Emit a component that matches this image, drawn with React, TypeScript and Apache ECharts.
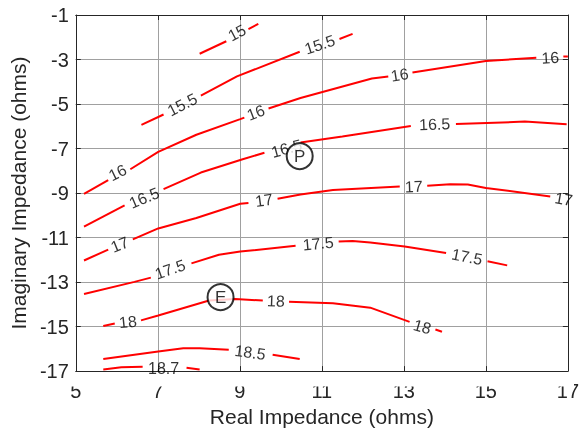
import React, { useEffect, useRef } from "react";
import * as echarts from "echarts";

// Contour segments per level (gaps are where inline labels sit)
const c150 = [
  [[8.02, -2.74], [8.67, -2.18]],
  [[9.21, -1.63], [9.45, -1.4]],
];
const c155 = [
  [[6.6, -5.94], [7.14, -5.47]],
  [[8.05, -4.62], [8.93, -3.76], [10.46, -2.65]],
  [[11.43, -2.08], [11.75, -1.85]],
];
const c160 = [
  [[5.2, -9.04], [5.79, -8.42]],
  [[6.33, -7.93], [7.01, -7.15], [7.94, -6.38], [9.01, -5.68], [9.11, -5.61]],
  [[9.7, -5.2], [10.48, -4.73], [12.22, -3.85], [12.62, -3.76]],
  [[13.21, -3.58], [15.0, -3.07], [16.23, -2.92]],
  [[16.89, -2.87], [17.0, -2.86]],
];
const c165 = [
  [[5.2, -10.51], [6.19, -9.55]],
  [[7.14, -8.82], [8.05, -8.08], [9.05, -7.49], [9.6, -7.19]],
  [[10.48, -6.73], [11.5, -6.46], [13.17, -5.99]],
  [[14.27, -5.9], [15.95, -5.79], [16.97, -5.91]],
];
const c170 = [
  [[5.2, -12.03], [5.79, -11.54]],
  [[6.39, -11.08], [7.01, -10.59], [7.94, -10.12], [9.01, -9.48], [9.21, -9.45]],
  [[9.92, -9.26], [10.48, -9.07], [11.27, -8.86], [12.9, -8.71]],
  [[13.57, -8.67], [14.13, -8.6], [14.56, -8.62], [15.0, -8.77], [16.57, -9.15]],
];
const c175 = [
  [[5.2, -13.54], [6.43, -12.99], [6.83, -12.8]],
  [[7.82, -12.16], [8.49, -11.77], [9.01, -11.63], [10.36, -11.37]],
  [[11.41, -11.18], [11.75, -11.15], [12.18, -11.22], [13.02, -11.4], [14.03, -11.69]],
  [[15.04, -12.06], [15.52, -12.25]],
];
const c180 = [
  [[5.67, -14.97], [5.95, -14.86]],
  [[6.59, -14.72], [7.01, -14.5], [8.25, -13.83], [8.89, -13.76], [9.56, -13.83]],
  [[10.2, -13.88], [11.27, -13.95], [12.18, -14.15], [13.14, -14.79]],
  [[13.77, -15.13], [13.93, -15.23]],
];
const c185 = [
  [[5.67, -16.46], [7.01, -16.12], [7.62, -15.97], [8.02, -15.97], [8.73, -16.04]],
  [[9.8, -16.27], [10.46, -16.46]],
];
const c187 = [
  [[5.67, -16.93], [6.11, -16.83], [6.63, -16.81]],
  [[7.7, -16.85], [8.02, -16.93]],
];

// Inline contour labels
const labelText = ["15", "15.5", "15.5", "16", "16", "16", "16", "16.5", "16.5", "16.5", "17", "17", "17", "17", "17.5", "17.5", "17.5", "18", "18", "18", "18.5", "18.7"];
const labelX = [8.93, 7.6, 10.95, 6.02, 9.39, 12.9, 16.57, 6.67, 10.14, 13.75, 6.07, 9.59, 13.24, 16.9, 7.3, 10.91, 14.54, 6.27, 9.88, 13.45, 9.25, 7.14];
const labelY = [-1.8, -5.03, -2.33, -8.08, -5.39, -3.69, -2.92, -9.22, -7.0, -5.91, -11.32, -9.33, -8.71, -9.27, -12.43, -11.27, -11.87, -14.79, -13.85, -15.01, -16.16, -16.9];
const labelAngle = [28, 27, 18, 26, 21, 9, 3, 23, 15, 2, 22, 8, 2, -10, 19, 5, -11, 6, -2, -16, -8, 0];

// Marked points
const pointNames = ["P", "E"];
const pointX = [10.46, 8.53];
const pointY = [-7.34, -13.68];

const xTicks = { min: 5, max: 17, interval: 2 };
const yTicks = { min: -17, max: -1, interval: 2 };

const FONT = "'Liberation Sans', Arial, Helvetica, sans-serif";
const AX = "#262626";

export default function App() {
  const ref = useRef<HTMLDivElement>(null);
  useEffect(() => {
    if (!ref.current) return;
    const chart = echarts.init(ref.current, undefined, { renderer: "svg" });
    const allLevels = [c150, c155, c160, c165, c170, c175, c180, c185, c187];
    const lineSeries: any[] = [];
    allLevels.forEach((lvl) =>
      lvl.forEach((seg) =>
        lineSeries.push({
          type: "line",
          data: seg,
          symbol: "none",
          showSymbol: false,
          lineStyle: { color: "#ff0000", width: 2 },
          z: 2,
          silent: true,
        })
      )
    );
    const labelData = labelText.map((t, i) => ({
      value: [labelX[i], labelY[i]],
      label: { rotate: labelAngle[i], formatter: t },
    }));
    const option: any = {
      animation: false,
      textStyle: { fontFamily: FONT },
      grid: { left: 70, right: 8, top: 15, bottom: 55, containLabel: false },
      xAxis: [
        {
          type: "value",
          ...xTicks,
          position: "bottom",
          axisLine: { show: true, onZero: false, lineStyle: { color: AX, width: 1 } },
          axisTick: { show: true, inside: true, length: 5, lineStyle: { color: AX } },
          axisLabel: { fontSize: 20, color: AX, margin: 10, fontFamily: FONT },
          splitLine: { show: true, lineStyle: { color: "#a0a0a0", width: 1 } },
          name: "Real Impedance (ohms)",
          nameLocation: "middle",
          nameGap: 31,
          nameTextStyle: { fontSize: 21, color: AX, fontFamily: FONT },
        },
        {
          type: "value",
          ...xTicks,
          position: "top",
          axisLine: { show: true, onZero: false, lineStyle: { color: AX, width: 1 } },
          axisTick: { show: true, inside: true, length: 5, lineStyle: { color: AX } },
          axisLabel: { show: false },
          splitLine: { show: false },
        },
      ],
      yAxis: [
        {
          type: "value",
          ...yTicks,
          position: "left",
          axisLine: { show: true, onZero: false, lineStyle: { color: AX, width: 1 } },
          axisTick: { show: true, inside: true, length: 5, lineStyle: { color: AX } },
          axisLabel: { fontSize: 20, color: AX, margin: 7, fontFamily: FONT },
          splitLine: { show: true, lineStyle: { color: "#a0a0a0", width: 1 } },
          name: "Imaginary Impedance (ohms)",
          nameLocation: "middle",
          nameGap: 37,
          nameTextStyle: { fontSize: 21, color: AX, fontFamily: FONT },
        },
        {
          type: "value",
          ...yTicks,
          position: "right",
          axisLine: { show: true, onZero: false, lineStyle: { color: AX, width: 1 } },
          axisTick: { show: true, inside: true, length: 5, lineStyle: { color: AX } },
          axisLabel: { show: false },
          splitLine: { show: false },
        },
      ],
      graphic: [
        { type: "rect", shape: { x: 574.5, y: 10, width: 8, height: 362 }, style: { fill: "#fff" }, z: 50 },
        { type: "rect", shape: { x: 71, y: 377.5, width: 503, height: 9 }, style: { fill: "#fff" }, z: 50 },
      ],
      series: [
        ...lineSeries,
        {
          type: "scatter",
          data: labelData,
          symbolSize: 1,
          itemStyle: { color: "rgba(0,0,0,0)" },
          label: {
            show: true,
            position: "inside",
            fontSize: 16,
            color: "#000",
            fontFamily: FONT,
          },
          z: 3,
          silent: true,
        },
        {
          type: "scatter",
          data: pointNames.map((n, i) => ({ value: [pointX[i], pointY[i]], name: n })),
          symbol: "circle",
          symbolSize: 26,
          itemStyle: { color: "#fff", borderColor: "#000", borderWidth: 2 },
          label: {
            show: true,
            position: "inside",
            formatter: (p: any) => p.name,
            fontSize: 17,
            color: "#000",
            fontFamily: FONT,
          },
          z: 6,
          silent: true,
        },
      ],
    };
    chart.setOption(option);
    return () => chart.dispose();
  }, []);
  return <div ref={ref} style={{ position: "fixed", left: 0, top: 0, width: 582, height: 432 }} />;
}
